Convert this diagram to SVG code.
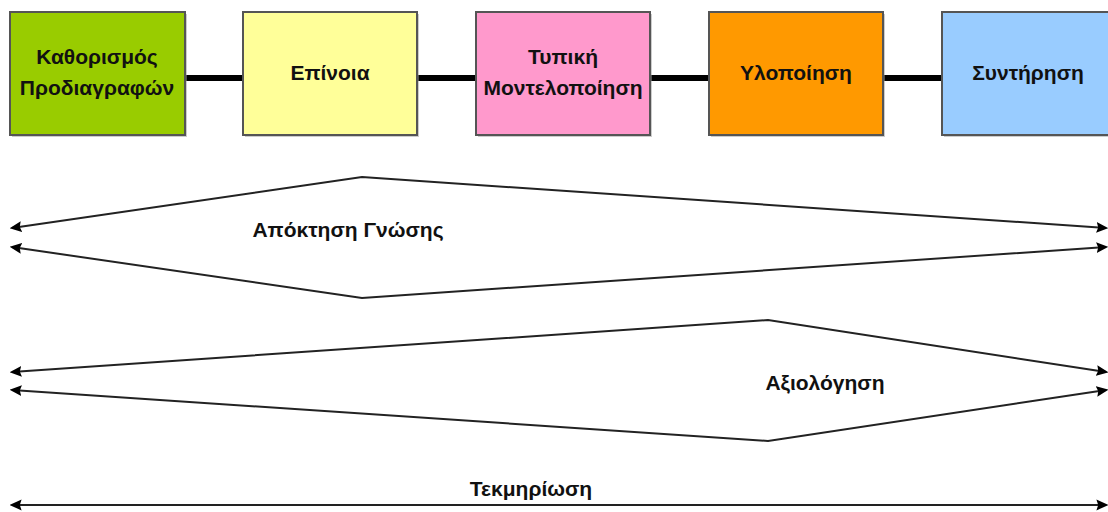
<svg xmlns="http://www.w3.org/2000/svg" width="1108" height="512" viewBox="0 0 1108 512">
<defs>
<style>
.box{stroke:#555;stroke-width:2}
.sh{fill:#999;opacity:0.5}
.t{font-family:"Liberation Sans",Arial,sans-serif;font-weight:bold;font-size:21px;fill:#111;text-anchor:middle}
.link{stroke:#000;stroke-width:6;fill:none}
.ar{stroke:#222;stroke-width:2;fill:none;marker-start:url(#ah);marker-end:url(#ah)}
</style>
<marker id="ah" viewBox="0 0 10 10" refX="8" refY="5" markerWidth="6" markerHeight="6" orient="auto-start-reverse" markerUnits="strokeWidth">
<path d="M10,5 L0,0.5 L1.5,5 L0,9.5 Z" fill="#000"/>
</marker>
</defs>
<rect width="1108" height="512" fill="#fff"/>
<g id="connectors">
<line class="link" x1="185" y1="78" x2="243" y2="78"/>
<line class="link" x1="417" y1="78" x2="476" y2="78"/>
<line class="link" x1="650" y1="78" x2="709" y2="78"/>
<line class="link" x1="883" y1="78" x2="942" y2="78"/>
<polyline class="ar" points="12,228 362,177 1106,228"/>
<polyline class="ar" points="12,247 362,298 1106,247"/>
<polyline class="ar" points="12,372 768,320 1106,372"/>
<polyline class="ar" points="12,390 768,441 1106,390"/>
<line class="ar" x1="12" y1="505" x2="1106" y2="505"/>
</g>
<g id="n1">
<rect class="sh" x="12" y="14" width="175" height="123"/>
<rect class="box" x="10" y="12" width="175" height="123" fill="#99CC00"/>
<text class="t" x="97" y="64">Καθορισμός</text>
<text class="t" x="97" y="95">Προδιαγραφών</text>
</g>
<g id="n2">
<rect class="sh" x="245" y="14" width="174" height="123"/>
<rect class="box" x="243" y="12" width="174" height="123" fill="#FFFF99"/>
<text class="t" x="330" y="80">Επίνοια</text>
</g>
<g id="n3">
<rect class="sh" x="478" y="14" width="174" height="123"/>
<rect class="box" x="476" y="12" width="174" height="123" fill="#FF99CC"/>
<text class="t" x="563" y="64">Τυπική</text>
<text class="t" x="563" y="95">Μοντελοποίηση</text>
</g>
<g id="n4">
<rect class="sh" x="711" y="14" width="174" height="123"/>
<rect class="box" x="709" y="12" width="174" height="123" fill="#FF9900"/>
<text class="t" x="796" y="80">Υλοποίηση</text>
</g>
<g id="n5">
<rect class="sh" x="944" y="14" width="174" height="123"/>
<rect class="box" x="942" y="12" width="174" height="123" fill="#99CCFF"/>
<text class="t" x="1028" y="80">Συντήρηση</text>
</g>
<g id="labels">
<text class="t" x="348" y="237">Απόκτηση Γνώσης</text>
<text class="t" x="825" y="390">Αξιολόγηση</text>
<text class="t" x="531" y="496">Τεκμηρίωση</text>
</g>
</svg>
